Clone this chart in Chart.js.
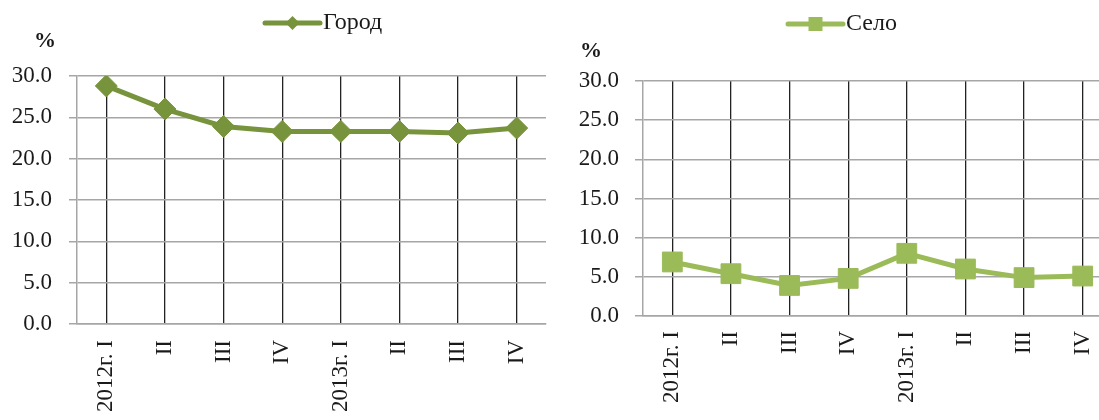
<!DOCTYPE html>
<html>
<head>
<meta charset="utf-8">
<script src="https://cdn.jsdelivr.net/npm/chart.js@4.4.1/dist/chart.umd.min.js"></script>
<style>
  html, body { margin: 0; padding: 0; background: #fff; overflow: hidden; }
  body { width: 1099px; height: 420px; position: relative; }
  .box { position: absolute; top: 0; height: 420px; }
  #leftBox { left: 0; width: 550px; }
  #rightBox { left: 550px; width: 566px; }
</style>
</head>
<body>
<div class="box" id="leftBox"><canvas id="cityChart" width="550" height="420"></canvas></div>
<div class="box" id="rightBox"><canvas id="villageChart" width="566" height="420"></canvas></div>
<script>
const quarters = ['2012г. I', 'II', 'III', 'IV', '2013г. I', 'II', 'III', 'IV'];
const cityValues = [28.8, 26.0, 23.9, 23.3, 23.3, 23.3, 23.1, 23.7];
const villageValues = [6.9, 5.4, 3.9, 4.8, 8.0, 6.0, 4.9, 5.1];
const yTicks = [0, 5, 10, 15, 20, 25, 30];

const FONT = "'Liberation Serif', 'DejaVu Serif', serif";
const TEXT_COLOR = '#1a1a1a';

// legend (line + marker + name) and the "%" unit label
const legendPlugin = {
  id: 'markerLegend',
  afterDraw(chart, args, opts) {
    const ctx = chart.ctx;
    const ds = chart.data.datasets[0];
    ctx.save();
    ctx.strokeStyle = ds.borderColor;
    ctx.lineWidth = 5;
    ctx.lineCap = 'round';
    ctx.beginPath();
    ctx.moveTo(opts.x, opts.y);
    ctx.lineTo(opts.x + 55, opts.y);
    ctx.stroke();

    const cx = opts.x + 27.5;
    ctx.fillStyle = ds.pointBackgroundColor;
    ctx.beginPath();
    if (ds.pointStyle === 'rectRot') {
      ctx.moveTo(cx - 7, opts.y);
      ctx.lineTo(cx, opts.y - 7);
      ctx.lineTo(cx + 7, opts.y);
      ctx.lineTo(cx, opts.y + 7);
      ctx.closePath();
    } else {
      ctx.rect(cx - 7, opts.y - 7, 14, 14);
    }
    ctx.fill();

    ctx.fillStyle = TEXT_COLOR;
    ctx.font = '24px ' + FONT;
    ctx.textAlign = 'left';
    ctx.textBaseline = 'middle';
    ctx.fillText(ds.label, opts.x + 58, opts.y);

    ctx.font = 'bold 22px ' + FONT;
    ctx.textAlign = 'center';
    ctx.fillText('%', opts.unitX, opts.unitY);
    ctx.restore();
  }
};

function makeChart(canvasId, label, values, cfg) {
  const ctx = document.getElementById(canvasId).getContext('2d');
  return new Chart(ctx, {
    type: 'line',
    data: {
      labels: quarters,
      datasets: [{
        label: label,
        data: values,
        borderColor: cfg.color,
        backgroundColor: cfg.color,
        pointBackgroundColor: cfg.color,
        pointBorderColor: cfg.color,
        pointBorderWidth: 1,
        pointStyle: cfg.pointStyle,
        pointRadius: cfg.pointRadius,
        borderWidth: 5,
        fill: false,
        tension: 0
      }]
    },
    options: {
      responsive: false,
      animation: false,
      layout: {
        autoPadding: false,
        padding: { top: cfg.top, right: cfg.right, left: 0, bottom: 0 }
      },
      plugins: {
        legend: { display: false },
        tooltip: { enabled: false },
        markerLegend: cfg.legend
      },
      scales: {
        x: {
          offset: true,
          grid: {
            offset: false,
            color: '#222',
            lineWidth: 1.3,
            drawTicks: false
          },
          border: { display: true, color: '#a6a6a6', width: 1.5 },
          ticks: {
            color: TEXT_COLOR,
            font: { family: FONT, size: 23 },
            minRotation: 90,
            maxRotation: 90,
            padding: cfg.xPad,
            autoSkip: false
          },
          afterFit: (scale) => {
            // fixed axis height; rotated labels may run off the bottom like in the original
            scale.height = cfg.xHeight;
            scale.paddingLeft = 0;
            scale.paddingRight = 0;
          }
        },
        y: {
          min: 0,
          max: 30,
          afterBuildTicks: (scale) => {
            scale.ticks = yTicks.map(v => ({ value: v }));
          },
          grid: {
            color: '#a6a6a6',
            lineWidth: 1.5,
            tickLength: 8
          },
          border: { display: true, color: '#a6a6a6', width: 1.5 },
          ticks: {
            color: TEXT_COLOR,
            font: { family: FONT, size: 23 },
            padding: cfg.yPad,
            callback: (v) => Number(v).toFixed(1)
          },
          afterFit: (scale) => {
            scale.width = cfg.yWidth;
            scale.paddingTop = 0;
            scale.paddingBottom = 0;
          }
        }
      }
    },
    plugins: [legendPlugin]
  });
}

makeChart('cityChart', 'Город', cityValues, {
  color: '#77933c',
  pointStyle: 'rectRot',
  pointRadius: 11,
  top: 76,
  right: 4,
  xHeight: 96,
  yWidth: 77,
  xPad: 16,
  yPad: 17,
  legend: { x: 265, y: 23, unitX: 45, unitY: 41 }
});

makeChart('villageChart', 'Село', villageValues, {
  color: '#9bbb59',
  pointStyle: 'rect',
  pointRadius: 14,
  top: 81,
  right: 4,
  xHeight: 104,
  yWidth: 93,
  xPad: 15,
  yPad: 16,
  legend: { x: 238, y: 24, unitX: 41, unitY: 51 }
});
</script>
</body>
</html>
